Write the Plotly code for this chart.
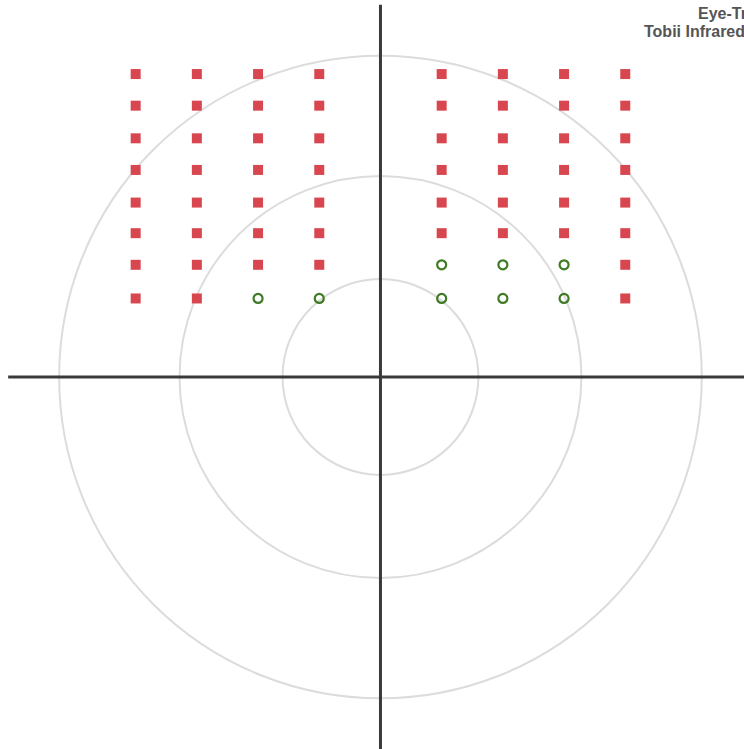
import plotly.graph_objects as go

# Grid of test locations (degrees)
columns = [-24, -18, -12, -6, 6, 12, 18, 24]
rows = [29.7, 26.6, 23.4, 20.3, 17.1, 14.1, 11.0, 7.7]
# status per row (top to bottom) per column: 'm' = missed (red square), 's' = seen (green circle)
status = [
    "mmmmmmmm",
    "mmmmmmmm",
    "mmmmmmmm",
    "mmmmmmmm",
    "mmmmmmmm",
    "mmmmmmmm",
    "mmmmsssm",
    "mmsssssm",
]
ring_radii = [9.6, 19.7, 31.5]
axis_extent = 36.5
title_lines = ["Eye-Tracking", "Tobii Infrared Camera"]

red_x, red_y, green_x, green_y = [], [], [], []
for r, row in zip(rows, status):
    for c, s in zip(columns, row):
        if s == "m":
            red_x.append(c); red_y.append(r)
        else:
            green_x.append(c); green_y.append(r)

fig = go.Figure()
fig.add_trace(go.Scatter(x=red_x, y=red_y, mode="markers",
                         marker=dict(symbol="square", size=10, color="#d8474f", line=dict(width=0)),
                         hoverinfo="skip"))
fig.add_trace(go.Scatter(x=green_x, y=green_y, mode="markers",
                         marker=dict(symbol="circle-open", size=9, color="#3f7a25", line=dict(width=2.2)),
                         hoverinfo="skip"))

shapes = []
for rr in ring_radii:
    shapes.append(dict(type="circle", xref="x", yref="y", x0=-rr, x1=rr, y0=-rr, y1=rr,
                       line=dict(color="#dcdcdc", width=2), layer="below"))
shapes.append(dict(type="line", xref="x", yref="y", x0=-axis_extent, x1=axis_extent, y0=0, y1=0,
                   line=dict(color="#3a3a3a", width=3)))
shapes.append(dict(type="line", xref="x", yref="y", x0=0, x1=0, y0=-axis_extent, y1=axis_extent,
                   line=dict(color="#3a3a3a", width=3)))

W, H = 744, 749
fig.update_layout(
    width=W, height=H,
    margin=dict(l=0, r=0, t=0, b=0),
    paper_bgcolor="white", plot_bgcolor="white",
    showlegend=False,
    shapes=shapes,
    xaxis=dict(range=[-37.3, 35.64], visible=False, showgrid=False, zeroline=False, fixedrange=True),
    yaxis=dict(range=[-36.47, 36.96], visible=False, showgrid=False, zeroline=False, fixedrange=True),
    annotations=[
        dict(text="<b>" + title_lines[0] + "</b>", xref="paper", yref="paper", x=696 / W, y=1 - 3 / H,
             xanchor="left", yanchor="top", showarrow=False,
             font=dict(family="Liberation Sans, Arial, sans-serif", size=16, color="#555555")),
        dict(text="<b>" + title_lines[1] + "</b>", xref="paper", yref="paper", x=642 / W, y=1 - 21 / H,
             xanchor="left", yanchor="top", showarrow=False,
             font=dict(family="Liberation Sans, Arial, sans-serif", size=16, color="#555555")),
    ],
)

fig.write_html("out.html",
               config={"displayModeBar": False},
               post_script="document.body.style.margin='0';document.body.style.overflow='hidden';")
